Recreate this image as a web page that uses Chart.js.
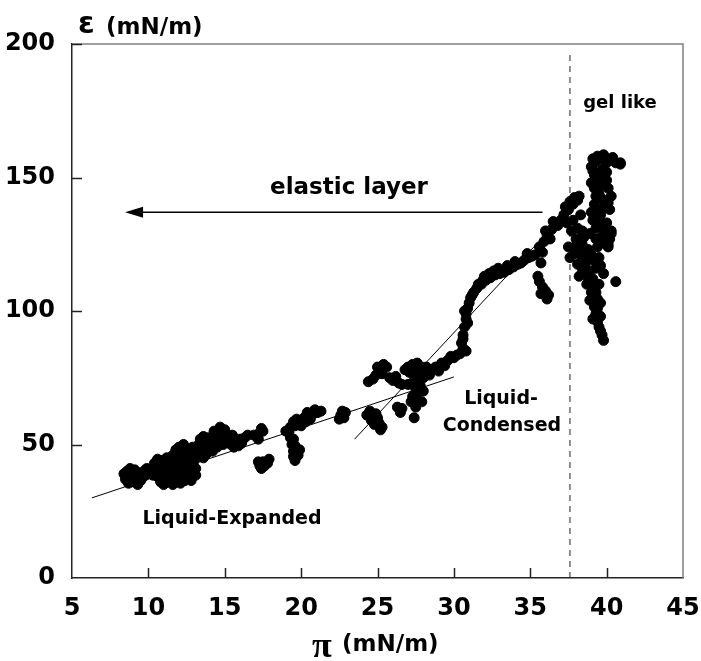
<!DOCTYPE html>
<html>
<head>
<meta charset="utf-8">
<script src="https://cdn.jsdelivr.net/npm/chart.js@4"></script>
<style>
  html, body { margin: 0; padding: 0; background: #fff; }
  #wrap { width: 701px; height: 661px; }
</style>
</head>
<body>
<div id="wrap"><canvas id="chart" width="701" height="661"></canvas></div>
<script>
// Axis ticks
const xTickValues = [5, 10, 15, 20, 25, 30, 35, 40, 45];
const yTickValues = [0, 50, 100, 150, 200];

// Liquid-expanded points (pi, epsilon)
const expandedPi = [8.5, 8.6, 8.8, 8.9, 8.7, 9.0, 8.6, 9.2, 9.4, 9.6, 9.8, 10.0, 9.5, 9.3,
    10.5, 10.6, 10.8, 10.9, 11.0, 11.1, 10.7, 11.3, 11.4, 11.5, 11.6, 11.7, 11.8, 11.9, 12.0,
    12.1, 12.2, 12.3, 12.4, 12.5, 12.6, 12.7, 12.8, 12.9, 13.0, 13.1, 13.2, 13.3, 12.0, 12.4,
    11.8, 12.6, 13.5, 13.7, 13.9, 14.0, 13.6, 13.4, 14.4, 14.6, 14.8, 15.0, 14.5, 15.1, 14.9,
    15.4, 15.7, 16.0, 16.3, 15.6, 15.9, 17.1, 17.3, 17.5, 17.2, 17.3, 17.5, 17.8, 17.4, 17.2,
    19.0, 19.3, 19.6, 19.9, 20.2, 20.5, 20.8, 21.1, 19.5, 20.0, 20.6, 19.5, 19.6, 19.7, 19.5,
    19.6, 19.9, 19.4, 22.6, 22.8, 22.7,
    8.4, 8.8, 9.1, 9.3, 9.7, 9.9, 10.2, 10.3, 10.4, 10.6, 10.9, 11.2, 11.0, 11.3, 11.6, 11.4,
    11.6, 11.9, 12.2, 12.0, 12.3, 12.7, 12.9, 13.1, 12.8, 12.5, 12.1, 13.6, 14.2, 14.3, 14.7,
    15.3, 15.5, 16.1, 16.5, 13.8, 14.2, 16.9, 17.4, 17.6, 17.9, 19.2, 19.7, 20.3, 20.9, 21.3,
    20.4, 19.8, 19.5, 19.3, 22.5, 22.9];
const expandedEps = [37, 40, 38, 36, 35.5, 39, 38.5, 37, 38.5, 39.5, 40.5, 39, 36.5, 35,
    41, 38, 36, 39, 42, 37, 43, 40, 44, 37, 46, 42, 39, 36, 44,
    47, 41, 38, 45, 48, 42, 39, 46, 49, 44, 41, 47, 50, 38.5, 36.5,
    48, 37.5, 48, 51, 52.5, 49, 45, 52, 50, 52, 54, 55.5, 49, 51, 50,
    50, 51, 52, 52.5, 49, 49.5, 53, 54.5, 55, 52, 42, 43.5, 43, 41, 43.5,
    55, 56.5, 57, 58.5, 60, 61, 61.5, 62, 58.5, 57, 59.5, 52, 49.5, 47, 45.5,
    44, 48, 50, 61, 60, 62.5,
    39, 41, 40.5, 39.5, 38, 41, 40, 38.5, 43, 44.5, 44, 45, 35, 36, 35, 39,
    40.5, 42, 45, 49, 50, 48, 44, 38.5, 36.5, 43.5, 35.5, 53, 53, 55, 56.5,
    52, 53.5, 50.5, 53.5, 46.5, 47.5, 53.5, 56, 42, 44.5, 54.5, 59.5, 58.5, 63, 62.5,
    62, 46, 47.5, 52.5, 59.5, 62];

// Liquid-condensed points
const condensedPi = [24.3, 24.6, 24.8, 25.1, 25.3, 24.9, 24.4, 24.9, 25.2, 25.4, 25.6,
    26.0, 26.4, 26.6, 26.3, 26.6, 26.8, 27.1, 27.4, 27.7, 28.0, 27.8, 27.6, 27.9, 27.5, 27.2,
    27.4, 28.2, 27.0, 27.4, 28.4, 28.8, 29.2, 29.6, 30.0, 30.4, 30.8, 29.0, 29.8,
    30.6, 30.7, 30.8, 30.7, 31.0, 31.1, 31.3, 31.5, 31.8, 32.1, 32.4, 32.7, 33.0, 33.3, 33.6,
    33.9, 34.2, 32.0, 34.6, 34.9, 35.1, 35.9, 36.1, 36.4, 36.6, 35.8, 35.7, 35.6, 35.8, 36.0,
    36.2, 37.2, 37.5, 37.8, 38.1, 37.4, 37.7, 38.0, 38.3,
    24.5, 25.0, 25.2, 24.7, 25.0, 25.3, 25.8, 26.2, 26.5, 27.0, 27.3, 27.6, 27.9, 28.1, 27.5,
    27.7, 27.3, 28.0, 28.6, 29.4, 30.2, 30.6, 30.5, 30.6, 30.9, 30.8, 30.9, 31.2, 31.6, 31.9,
    32.3, 32.6, 32.9, 33.5, 34.0, 34.4, 34.8, 35.3, 35.6, 36.0, 36.3, 36.5, 36.8, 37.0, 37.3,
    37.6, 37.9, 38.2, 37.8, 38.1, 38.4, 35.5, 35.7, 36.1];
const condensedEps = [61, 59, 57.5, 58, 56.5, 61.5, 73.5, 76, 78, 80, 79,
    74, 73, 72.5, 64, 63.5, 78, 77, 78.5, 77, 75, 72, 69, 66, 64, 66,
    74, 79, 72.5, 60, 76, 79, 80.5, 81.5, 82.5, 84, 85, 77.5, 83,
    91, 94, 97, 100, 103, 105, 107, 108.5, 110, 111.5, 112.5, 113.5, 114, 114.5, 115.5,
    116.5, 117.5, 113, 119, 120, 120.5, 126, 128.5, 130.5, 132, 122, 118, 111, 109, 107.5,
    106, 136, 138, 140, 141.5, 133, 130, 127, 136,
    62.5, 60, 55.5, 74.5, 79, 76.5, 75, 75.5, 62, 79, 80, 80.5, 79, 77, 71,
    66.5, 68, 70, 78, 79.5, 83.5, 86, 88, 89.5, 95.5, 99, 101, 106, 110, 111.5,
    114, 115, 116, 117, 118.5, 118, 121.5, 121, 124, 130, 127, 133.5, 132, 134, 139,
    141, 142.5, 143, 134, 131, 130, 113, 106.5, 104.5];

// Gel-like points
const gelPi = [39.0, 39.3, 39.6, 39.9, 40.2, 40.6, 40.9, 39.2, 39.0, 39.4, 39.8, 40.1, 39.5,
    39.9, 40.2, 39.2, 39.6, 40.0, 40.3, 39.3, 39.7, 40.1, 39.4, 38.3, 38.6, 38.9, 39.1, 38.4,
    38.7, 39.0, 39.2, 38.2, 39.4, 38.8, 39.5, 39.3, 39.4, 39.5, 39.7, 39.8, 40.3, 40.1, 39.8,
    40.6, 37.6, 40.9, 38.4, 37.5,
    39.1, 39.4, 39.8, 40.0, 40.4, 39.1, 39.7, 39.5, 40.0, 39.2, 39.6, 40.0, 40.3, 39.3, 39.7,
    40.1, 39.0, 39.4, 39.8, 39.1, 39.5, 39.9, 38.9, 39.3, 39.8, 40.2, 38.5, 38.8, 39.0, 39.2,
    39.5, 38.5, 39.3, 39.6, 38.6, 39.0, 39.3, 39.4, 38.9, 39.2, 39.6, 39.6, 39.1, 39.6, 38.1,
    37.9, 38.0];
const gelEps = [154, 156, 157, 157.5, 156.5, 155.5, 155.5, 151, 148, 149, 150, 146, 144,
    141, 138, 140, 136, 133, 130, 131, 128, 125, 124, 121, 118, 115, 112, 116,
    110, 107, 104, 113, 101, 119, 110, 99, 96, 94, 91, 89, 129, 124, 114,
    111, 120, 155, 125, 124,
    157, 158, 158.5, 155.5, 157.5, 152.5, 153, 151, 152, 146, 147, 149, 143, 143, 142,
    140.5, 137, 138, 138.5, 134, 133, 130.5, 129, 127, 125.5, 127, 127.5, 123, 121, 119,
    120, 122.5, 116, 117, 113.5, 109.5, 107, 104.5, 104, 101.5, 103, 98, 97, 92.5, 117.5,
    121.5, 124.5];

// Fit lines, phase boundary and arrow
const expandedFitPi = [6.3, 30.0];
const expandedFitEps = [30.0, 75.3];
const condensedFitPi = [23.5, 38.5];
const condensedFitEps = [52.0, 144.0];
const boundaryPi = 37.6;
const boundaryEps = [0, 196.5];
const arrowPi = [35.8, 8.8];
const arrowEps = 137;

const toPoints = (xs, ys) => xs.map((x, i) => ({ x: x, y: ys[i] }));

const FONT = '"DejaVu Sans", sans-serif';

// Extra drawing: frame, inward ticks, arrow head and labels
const decorPlugin = {
    id: 'decor',
    afterDraw(chart) {
        const ctx = chart.ctx;
        const xs = chart.scales.x;
        const ys = chart.scales.y;
        const area = chart.chartArea;

        ctx.save();
        // grey top/right frame
        ctx.strokeStyle = '#808080';
        ctx.lineWidth = 1.5;
        ctx.beginPath();
        ctx.moveTo(area.left, area.top);
        ctx.lineTo(area.right, area.top);
        ctx.lineTo(area.right, area.bottom);
        ctx.stroke();

        // inward tick marks
        ctx.strokeStyle = '#222';
        ctx.lineWidth = 1.5;
        ctx.beginPath();
        xTickValues.slice(1, -1).forEach(v => {
            const px = Math.round(xs.getPixelForValue(v)) + 0.5;
            ctx.moveTo(px, area.bottom);
            ctx.lineTo(px, area.bottom - 10);
        });
        yTickValues.slice(1).forEach(v => {
            const py = Math.round(ys.getPixelForValue(v)) + 0.5;
            ctx.moveTo(area.left, py);
            ctx.lineTo(area.left + 10, py);
        });
        ctx.stroke();

        // arrow head
        const tipX = xs.getPixelForValue(arrowPi[1]) - 5;
        const tipY = ys.getPixelForValue(arrowEps);
        ctx.fillStyle = '#000';
        ctx.beginPath();
        ctx.moveTo(tipX, tipY);
        ctx.lineTo(tipX + 18, tipY - 5.5);
        ctx.lineTo(tipX + 18, tipY + 5.5);
        ctx.closePath();
        ctx.fill();

        // annotations
        ctx.fillStyle = '#000';
        ctx.textBaseline = 'alphabetic';
        ctx.textAlign = 'center';
        ctx.font = 'bold 23px ' + FONT;
        ctx.fillText('elastic layer', 349, 194);
        ctx.font = 'bold 18px ' + FONT;
        ctx.fillText('gel like', 620, 108);
        ctx.font = 'bold 19px ' + FONT;
        ctx.fillText('Liquid-Expanded', 232, 524);
        ctx.fillText('Liquid-', 501, 404);
        ctx.fillText('Condensed', 502, 431);

        // axis titles
        ctx.textAlign = 'left';
        ctx.font = 'bold 30px ' + FONT;
        ctx.fillText('\u03b5', 78, 33);
        ctx.font = 'bold 23px ' + FONT;
        ctx.fillText('(mN/m)', 106, 34);

        ctx.font = 'bold 36px "Liberation Serif", serif';
        ctx.fillText('\u03c0', 312, 657);
        ctx.font = 'bold 23px ' + FONT;
        ctx.fillText('(mN/m)', 342, 651);
        ctx.restore();
    }
};

const ctx = document.getElementById('chart').getContext('2d');

const pointStyle = {
    backgroundColor: '#000',
    borderColor: '#000',
    pointRadius: 5
};

new Chart(ctx, {
    type: 'scatter',
    data: {
        datasets: [
            Object.assign({ label: 'Liquid-Expanded', data: toPoints(expandedPi, expandedEps) }, pointStyle),
            Object.assign({ label: 'Liquid-Condensed', data: toPoints(condensedPi, condensedEps) }, pointStyle),
            Object.assign({ label: 'gel like', data: toPoints(gelPi, gelEps) }, pointStyle),
            {
                label: 'LE fit',
                data: toPoints(expandedFitPi, expandedFitEps),
                showLine: true,
                borderColor: '#000',
                borderWidth: 1,
                pointRadius: 0
            },
            {
                label: 'LC fit',
                data: toPoints(condensedFitPi, condensedFitEps),
                showLine: true,
                borderColor: '#000',
                borderWidth: 1,
                pointRadius: 0
            },
            {
                label: 'boundary',
                data: toPoints([boundaryPi, boundaryPi], boundaryEps),
                showLine: true,
                borderColor: '#222',
                borderWidth: 1,
                borderDash: [6, 5],
                pointRadius: 0
            },
            {
                label: 'arrow',
                data: toPoints(arrowPi, [arrowEps, arrowEps]),
                showLine: true,
                borderColor: '#000',
                borderWidth: 1.5,
                pointRadius: 0
            }
        ]
    },
    options: {
        responsive: false,
        animation: false,
        events: [],
        layout: { padding: { top: 44, right: 18, left: 0, bottom: 0 } },
        plugins: {
            legend: { display: false },
            tooltip: { enabled: false }
        },
        scales: {
            x: {
                type: 'linear',
                min: 5,
                max: 45,
                afterBuildTicks: scale => { scale.ticks = xTickValues.map(v => ({ value: v })); },
                afterFit: scale => {
                    scale.height = 83;
                    scale.paddingLeft = 0;
                    scale.paddingRight = 0;
                },
                grid: { display: false, drawTicks: false },
                border: { display: true, color: '#222', width: 1.5 },
                ticks: {
                    padding: 16,
                    color: '#000',
                    font: { family: FONT, size: 24, weight: 'bold' }
                }
            },
            y: {
                type: 'linear',
                min: 0,
                max: 200,
                afterBuildTicks: scale => { scale.ticks = yTickValues.map(v => ({ value: v })); },
                afterFit: scale => {
                    scale.width = 72;
                    scale.paddingTop = 0;
                    scale.paddingBottom = 0;
                },
                grid: { display: false, drawTicks: false },
                border: { display: true, color: '#222', width: 1.5 },
                ticks: {
                    padding: 17,
                    color: '#000',
                    font: { family: FONT, size: 24, weight: 'bold' }
                }
            }
        }
    },
    plugins: [decorPlugin]
});
</script>
</body>
</html>
